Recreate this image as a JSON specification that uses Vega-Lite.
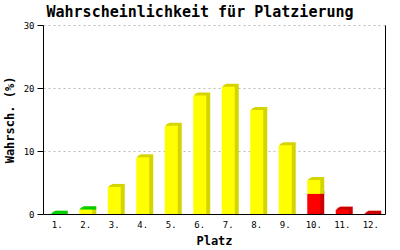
{
  "$schema": "https://vega.github.io/schema/vega-lite/v6.json",
  "width": 342,
  "height": 189,
  "autosize": {"type": "none"},
  "padding": {"left": 43, "top": 25, "right": 15, "bottom": 36},
  "background": "white",
  "title": {
    "text": "Wahrscheinlichkeit für Platzierung",
    "font": "DejaVu Sans Mono",
    "fontSize": 15,
    "fontWeight": "bold",
    "color": "black",
    "anchor": "middle",
    "dx": -14,
    "offset": 1
  },
  "config": {"view": {"stroke": null}},
  "data": {
    "values": [
      {"platz": "1.", "teil": "grün", "start": 0, "end": 0.05},
      {"platz": "2.", "teil": "gelb", "start": 0, "end": 0.7},
      {"platz": "2.", "teil": "grün", "start": 0.7, "end": 0.75},
      {"platz": "3.", "teil": "gelb", "start": 0, "end": 4.3},
      {"platz": "4.", "teil": "gelb", "start": 0, "end": 9.0},
      {"platz": "5.", "teil": "gelb", "start": 0, "end": 14.0},
      {"platz": "6.", "teil": "gelb", "start": 0, "end": 18.8},
      {"platz": "7.", "teil": "gelb", "start": 0, "end": 20.2},
      {"platz": "8.", "teil": "gelb", "start": 0, "end": 16.5},
      {"platz": "9.", "teil": "gelb", "start": 0, "end": 10.9},
      {"platz": "10.", "teil": "rot", "start": 0, "end": 3.2},
      {"platz": "10.", "teil": "gelb", "start": 3.2, "end": 5.4},
      {"platz": "11.", "teil": "rot", "start": 0, "end": 0.7},
      {"platz": "12.", "teil": "rot", "start": 0, "end": 0.05}
    ]
  },
  "encoding": {
    "x": {
      "field": "platz",
      "type": "nominal",
      "sort": null,
      "scale": {"paddingInner": 0.544, "paddingOuter": 0.272},
      "axis": {
        "title": "Platz",
        "labelAngle": 0,
        "ticks": false,
        "domainColor": "black",
        "labelFont": "DejaVu Sans Mono",
        "labelFontSize": 9,
        "labelColor": "black",
        "labelPadding": 6,
        "titleFont": "DejaVu Sans Mono",
        "titleFontSize": 12,
        "titleFontWeight": "bold",
        "titleColor": "black",
        "titlePadding": 6
      }
    }
  },
  "layer": [
    {
      "mark": {"type": "bar", "xOffset": 1, "yOffset": -1, "y2Offset": 0},
      "encoding": {
        "y": {"field": "end", "type": "quantitative", "scale": {"domain": [0, 30]},
          "axis": {"orient": "right", "title": null, "labels": false, "ticks": false, "grid": false, "domainColor": "black"}},
        "y2": {"field": "start"},
        "color": {"field": "teil", "type": "nominal", "scale": {"domain": ["gelb", "grün", "rot"], "range": ["#d4d400", "#00cc00", "#cc0000"]}, "legend": null}
      }
    },
    {
      "mark": {"type": "bar", "xOffset": 2, "yOffset": -2, "y2Offset": 0},
      "encoding": {
        "y": {"field": "end", "type": "quantitative", "scale": {"domain": [0, 30]}, "axis": null},
        "y2": {"field": "start"},
        "color": {"field": "teil", "type": "nominal", "scale": {"domain": ["gelb", "grün", "rot"], "range": ["#d4d400", "#00cc00", "#cc0000"]}, "legend": null}
      }
    },
    {
      "mark": {"type": "bar", "xOffset": 3, "yOffset": -2, "y2Offset": 0},
      "encoding": {
        "y": {"field": "end", "type": "quantitative", "scale": {"domain": [0, 30]}, "axis": null},
        "y2": {"field": "start"},
        "color": {"field": "teil", "type": "nominal", "scale": {"domain": ["gelb", "grün", "rot"], "range": ["#d4d400", "#00cc00", "#cc0000"]}, "legend": null}
      }
    },
    {
      "mark": {"type": "bar", "xOffset": 4, "yOffset": -3, "y2Offset": 0},
      "encoding": {
        "y": {"field": "end", "type": "quantitative", "scale": {"domain": [0, 30]}, "axis": null},
        "y2": {"field": "start"},
        "color": {"field": "teil", "type": "nominal", "scale": {"domain": ["gelb", "grün", "rot"], "range": ["#d4d400", "#00cc00", "#cc0000"]}, "legend": null}
      }
    },
    {
      "mark": {"type": "bar"},
      "encoding": {
        "y": {"field": "end", "type": "quantitative", "scale": {"domain": [0, 30]},
          "axis": {
            "title": "Wahrsch. (%)",
            "values": [0, 10, 20, 30],
            "grid": true,
            "gridColor": "#bbbbbb",
            "gridDash": [2, 3],
            "domainColor": "black",
            "tickColor": "black",
            "tickSize": 6,
            "labelFont": "DejaVu Sans Mono",
            "labelFontSize": 9,
            "labelColor": "black",
            "labelPadding": 3,
            "titleFont": "DejaVu Sans Mono",
            "titleFontSize": 12,
            "titleFontWeight": "bold",
            "titleColor": "black",
            "titlePadding": 7
          }},
        "y2": {"field": "start"},
        "color": {"field": "teil", "type": "nominal", "scale": {"domain": ["gelb", "grün", "rot"], "range": ["#ffff00", "#00ff00", "#ff0000"]}, "legend": null}
      }
    }
  ],
  "resolve": {"scale": {"color": "independent"}, "axis": {"y": "independent"}}
}
